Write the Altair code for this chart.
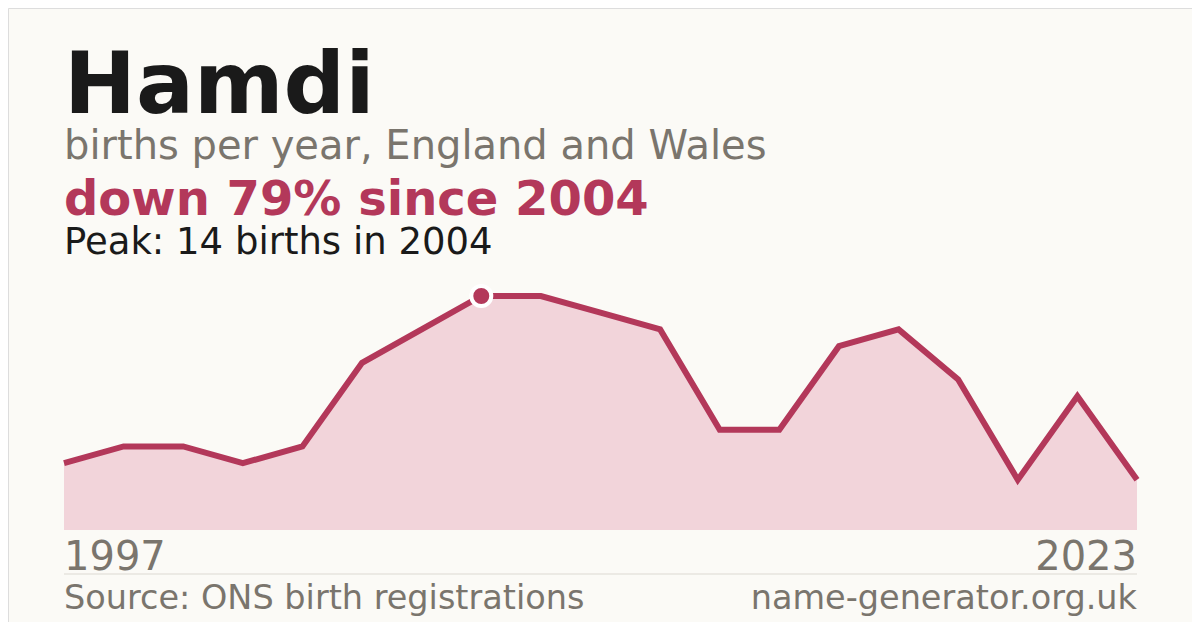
import altair as alt
import pandas as pd

name = "Hamdi"
subtitle = "births per year, England and Wales"
years = [1997, 1998, 1999, 2000, 2001, 2002, 2003, 2004, 2005, 2006,
         2008, 2009, 2011, 2013, 2015, 2017, 2019, 2021, 2023]
births = [4, 5, 5, 4, 5, 10, 12, 14, 14, 13, 12, 6, 6, 11, 12, 9, 3, 8, 3]
source = "Source: ONS birth registrations"
site = "name-generator.org.uk"

BG = "#fbfaf6"
ACC = "#b3385a"
FILL = "#f2d4da"
DARK = "#1a1a1a"
GRAY = "#7a756d"
RULE = "#dcd9d2"
FONT = "DejaVu Sans"

n = len(years)
df = pd.DataFrame({"i": list(range(n)), "year": years, "births": births})
peak_i = births.index(max(births))
peak_val = births[peak_i]
peak_year = years[peak_i]
pct = round((1 - births[-1] / peak_val) * 100)
headline = f"down {pct}% since {peak_year}"
peak_text = f"Peak: {peak_val} births in {peak_year}"

L, R = 56, 1129
xs = alt.Scale(domain=[0, n - 1], range=[L, R], nice=False, zero=False)
ys = alt.Scale(domain=[0, peak_val], range=[522, 288], nice=False)

X = alt.X("i:Q", scale=xs, axis=None)
Y = alt.Y("births:Q", scale=ys, axis=None)

area = alt.Chart(df).mark_area(color=FILL, opacity=1).encode(x=X, y=Y)
line = alt.Chart(df).mark_line(color=ACC, strokeWidth=6).encode(x=X, y=Y)
peak = alt.Chart(df.iloc[[peak_i]]).mark_circle(
    size=400, color=ACC, opacity=1, stroke="white", strokeWidth=4
).encode(x=X, y=Y)


def txt(s, x, y, size, color, weight="normal", align="left"):
    return alt.Chart(pd.DataFrame({"t": [s]})).mark_text(
        align=align, baseline="alphabetic", fontSize=size, fontWeight=weight,
        color=color, font=FONT
    ).encode(text="t:N", x=alt.value(x), y=alt.value(y))


first_lab = alt.Chart(df.iloc[[0]]).mark_text(
    align="left", baseline="alphabetic", fontSize=40, color=GRAY, font=FONT
).encode(x=X, y=alt.value(562), text=alt.Text("year:Q", format="d"))
last_lab = alt.Chart(df.iloc[[n - 1]]).mark_text(
    align="right", baseline="alphabetic", fontSize=40, color=GRAY, font=FONT
).encode(x=X, y=alt.value(562), text=alt.Text("year:Q", format="d"))

rule = alt.Chart(pd.DataFrame({"a": [0]})).mark_rule(color=RULE, strokeWidth=1).encode(
    x=alt.value(L), x2=alt.value(R), y=alt.value(566)
)

chart = alt.layer(
    area, line, peak, first_lab, last_lab, rule,
    txt(name, L, 105, 86, DARK, "bold"),
    txt(subtitle, L, 151, 40, GRAY),
    txt(headline, L, 207, 48, ACC, "bold"),
    txt(peak_text, L, 246, 37, DARK),
    txt(source, L, 601, 33.5, GRAY),
    txt(site, R, 601, 33.5, GRAY, align="right"),
).properties(
    width=1184, height=614, background=BG, padding=0,
    autosize=alt.AutoSizeParams(type="none"),
).configure_view(stroke=None).configure(font=FONT)

chart.save("out.html", embed_options={"renderer": "svg", "actions": False})
